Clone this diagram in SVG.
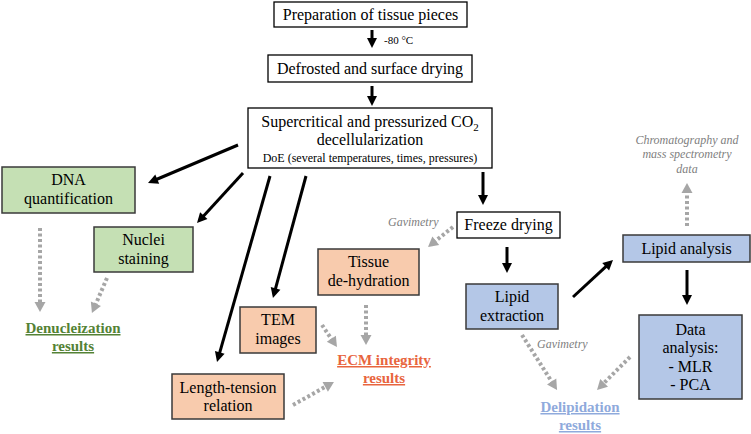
<svg xmlns="http://www.w3.org/2000/svg" width="751" height="434" viewBox="0 0 751 434" font-family="'Liberation Serif', 'Times New Roman', 'DejaVu Serif', serif">
<style>
text{font-family:'Liberation Serif','Times New Roman','DejaVu Serif',serif;fill:#000}
.t{font-size:16px;text-anchor:middle}
.s{font-size:12px;text-anchor:middle}
.gi{font-size:12px;font-style:italic;fill:#808080}
.res{font-size:15px;font-weight:bold;text-anchor:middle;text-decoration:underline}
.wb{fill:#fff;stroke:#000;stroke-width:1.3}
.gb{fill:#c5e0b4;stroke:#3a3a3a;stroke-width:1.5}
.ob{fill:#f8cbad;stroke:#3a3a3a;stroke-width:1.5}
.bb{fill:#b4c7e7;stroke:#3a3a3a;stroke-width:1.5}
.ka{stroke:#000;stroke-width:3;fill:none;marker-end:url(#ak)}
.ga{stroke:#a6a6a6;stroke-width:4;stroke-dasharray:3 2.5;fill:none;marker-end:url(#ag)}
</style>
<defs>
<marker id="ak" markerUnits="userSpaceOnUse" markerWidth="10" markerHeight="10" refX="1" refY="5" orient="auto" overflow="visible">
<path d="M0,0 L10,5 L0,10 z" fill="#000"/>
</marker>
<marker id="ag" markerUnits="userSpaceOnUse" markerWidth="10" markerHeight="11" refX="1" refY="5.5" orient="auto" overflow="visible">
<path d="M0,0 L10,5.5 L0,11 z" fill="#a6a6a6"/>
</marker>
</defs>

<g id="connectors">
<line class="ka" x1="372" y1="30" x2="372" y2="39"/>
<line class="ka" x1="372" y1="86" x2="372" y2="97"/>
<line class="ka" x1="238" y1="145" x2="156.3" y2="179.5"/>
<line class="ka" x1="243" y1="173" x2="203.1" y2="216.4"/>
<line class="ka" x1="270" y1="176" x2="219.5" y2="353.3"/>
<line class="ka" x1="306" y1="176" x2="275.3" y2="289.3"/>
<line class="ka" x1="483" y1="172" x2="483" y2="196"/>
<line class="ka" x1="507" y1="247" x2="507" y2="264"/>
<line class="ka" x1="573" y1="297" x2="606.4" y2="266.1"/>
<line class="ka" x1="687" y1="270" x2="687" y2="296"/>

<line class="ga" x1="40" y1="228" x2="40" y2="303"/>
<line class="ga" x1="107" y1="278" x2="95.5" y2="304.7"/>
<line class="ga" x1="453" y1="227" x2="435" y2="241.4"/>
<line class="ga" x1="366" y1="305" x2="366" y2="336"/>
<line class="ga" x1="322" y1="325" x2="331.9" y2="339.6"/>
<line class="ga" x1="293" y1="405" x2="326.1" y2="386.4"/>
<line class="ga" x1="687" y1="226" x2="687" y2="192"/>
<line class="ga" x1="522" y1="335" x2="552.2" y2="382.4"/>
<line class="ga" x1="630" y1="357" x2="603.4" y2="383.6"/>
</g>

<g id="labels">
<text x="384" y="44" style="font-size:11px">-80 °C</text>
<text class="gi" x="388" y="226">Gavimetry</text>
<text class="gi" x="537" y="348">Gavimetry</text>
<text class="gi" x="687" y="144" text-anchor="middle">Chromatography and</text>
<text class="gi" x="687" y="158" text-anchor="middle">mass spectrometry</text>
<text class="gi" x="687" y="173" text-anchor="middle">data</text>
</g>

<g id="prep">
<rect class="wb" x="274" y="2" width="193" height="25"/>
<text class="t" x="370.5" y="20">Preparation of tissue pieces</text>
</g>
<g id="defrost">
<rect class="wb" x="268" y="55" width="204" height="27"/>
<text class="t" x="370" y="74">Defrosted and surface drying</text>
</g>
<g id="scco2">
<rect class="wb" x="248" y="108" width="244" height="60"/>
<text class="t" x="370" y="127">Supercritical and pressurized CO<tspan style="font-size:11px" dy="4">2</tspan></text>
<text class="t" x="370" y="145">decellularization</text>
<text class="s" x="370" y="162">DoE (several temperatures, times, pressures)</text>
</g>
<g id="dna">
<rect class="gb" x="2" y="167" width="133" height="46"/>
<text class="t" x="68.5" y="185">DNA</text>
<text class="t" x="68.5" y="204">quantification</text>
</g>
<g id="nuclei">
<rect class="gb" x="94" y="227" width="99" height="45"/>
<text class="t" x="143.5" y="245">Nuclei</text>
<text class="t" x="143.5" y="264">staining</text>
</g>
<g id="denuc">
<text class="res" x="73" y="333" style="fill:#548235">Denucleization</text>
<text class="res" x="73" y="351" style="fill:#548235">results</text>
</g>
<g id="tem">
<rect class="ob" x="240" y="307" width="76" height="46"/>
<text class="t" x="278" y="325">TEM</text>
<text class="t" x="278" y="344">images</text>
</g>
<g id="length">
<rect class="ob" x="172" y="374" width="112" height="45"/>
<text class="t" x="228" y="393">Length-tension</text>
<text class="t" x="228" y="411">relation</text>
</g>
<g id="tissue">
<rect class="ob" x="318" y="249" width="101" height="46"/>
<text class="t" x="368.5" y="267">Tissue</text>
<text class="t" x="368.5" y="286">de-hydration</text>
</g>
<g id="ecm">
<text class="res" x="384" y="365" style="fill:#e8653e">ECM integrity</text>
<text class="res" x="384" y="383" style="fill:#e8653e">results</text>
</g>
<g id="freeze">
<rect class="wb" x="457" y="212" width="103" height="26"/>
<text class="t" x="508.5" y="230">Freeze drying</text>
</g>
<g id="lipidext">
<rect class="bb" x="466" y="284" width="92" height="45"/>
<text class="t" x="512" y="302">Lipid</text>
<text class="t" x="512" y="321">extraction</text>
</g>
<g id="lipidan">
<rect class="bb" x="623" y="235" width="127" height="27"/>
<text class="t" x="686.5" y="254">Lipid analysis</text>
</g>
<g id="dataan">
<rect class="bb" x="639" y="315" width="103" height="84"/>
<text class="t" x="690.5" y="335">Data</text>
<text class="t" x="690.5" y="353">analysis:</text>
<text class="t" x="690.5" y="372">- MLR</text>
<text class="t" x="690.5" y="390">- PCA</text>
</g>
<g id="delip">
<text class="res" x="580" y="412" style="fill:#8faadc">Delipidation</text>
<text class="res" x="580" y="430" style="fill:#8faadc">results</text>
</g>
</svg>
